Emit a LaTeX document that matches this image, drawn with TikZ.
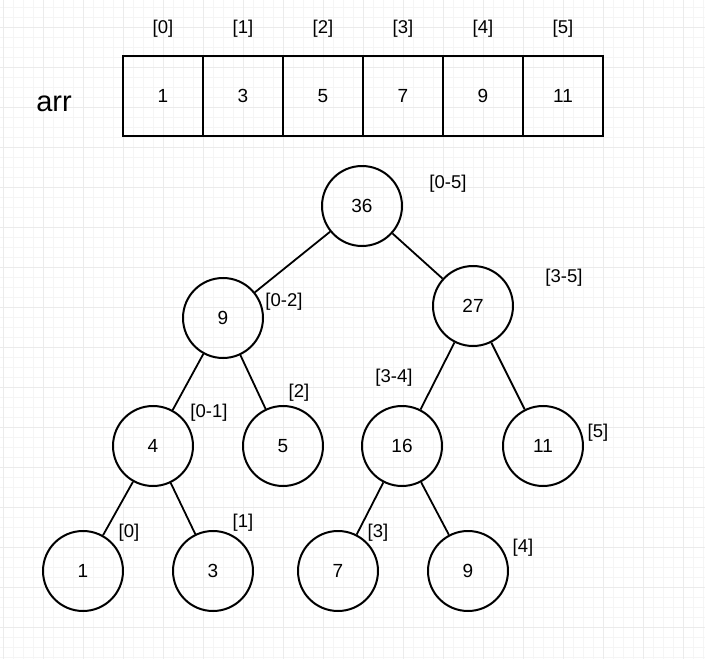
\documentclass[tikz,border=0pt]{standalone}
\usepackage{fontspec}
\setmainfont{Liberation Sans}

\begin{document}
\begin{tikzpicture}[x=1pt,y=-1pt,
  cell/.style={draw,rectangle,line width=2pt,minimum width=80pt,minimum height=80pt,inner sep=0pt,font=\fontsize{19}{22}\selectfont},
  vert/.style={draw,circle,line width=2pt,minimum size=80pt,inner sep=0pt,font=\fontsize{19}{22}\selectfont},
  idx/.style={inner sep=0pt,font=\fontsize{18.5}{22}\selectfont},
  link/.style={line width=1.8pt}]

\useasboundingbox (0,0) rectangle (705,659);
\fill[white] (0,0) rectangle (705,659);

% background grid
\foreach \x in {3,13,...,703} \draw[black!4,line width=1pt] (\x,0) -- (\x,659);
\foreach \y in {7,17,...,657} \draw[black!4,line width=1pt] (0,\y) -- (705,\y);
\foreach \x in {3,43,...,683} \draw[black!8,line width=1pt] (\x,0) -- (\x,659);
\foreach \y in {27,67,...,627} \draw[black!8,line width=1pt] (0,\y) -- (705,\y);

% the array
\node[inner sep=0pt,font=\fontsize{29}{32}\selectfont] (arr) at (54,104) {arr};
\foreach \v [count=\i from 0] in {1,3,5,7,9,11} {
  \node[cell] (c\i) at (163+80*\i,96) {\v};
  \node[idx] (i\i) at (163+80*\i,29) {[\i]};
}

% the tree
\node[vert] (s05) at (362,206) {36};
\node[vert] (s02) at (223,318) {9};
\node[vert] (s35) at (473,306) {27};
\node[vert] (s01) at (153,446) {4};
\node[vert] (s2) at (283,446) {5};
\node[vert] (s34) at (402,446) {16};
\node[vert] (s5) at (543,446) {11};
\node[vert] (s0) at (83,571) {1};
\node[vert] (s1) at (213,571) {3};
\node[vert] (s3) at (338,571) {7};
\node[vert] (s4) at (468,571) {9};

\draw[link] (s05) -- (s02);
\draw[link] (s05) -- (s35);
\draw[link] (s02) -- (s01);
\draw[link] (s02) -- (s2);
\draw[link] (s35) -- (s34);
\draw[link] (s35) -- (s5);
\draw[link] (s01) -- (s0);
\draw[link] (s01) -- (s1);
\draw[link] (s34) -- (s3);
\draw[link] (s34) -- (s4);

% ranges
\node[idx] (l05) at (448,184) {[0-5]};
\node[idx] (l35) at (564,278) {[3-5]};
\node[idx] (l02) at (284,302) {[0-2]};
\node[idx] (l2) at (299,393) {[2]};
\node[idx] (l01) at (209,413) {[0-1]};
\node[idx] (l34) at (394,378) {[3-4]};
\node[idx] (l5) at (598,433) {[5]};
\node[idx] (l0) at (129,533) {[0]};
\node[idx] (l1) at (243,523) {[1]};
\node[idx] (l3) at (378,533) {[3]};
\node[idx] (l4) at (523,548) {[4]};

\end{tikzpicture}
\end{document}
